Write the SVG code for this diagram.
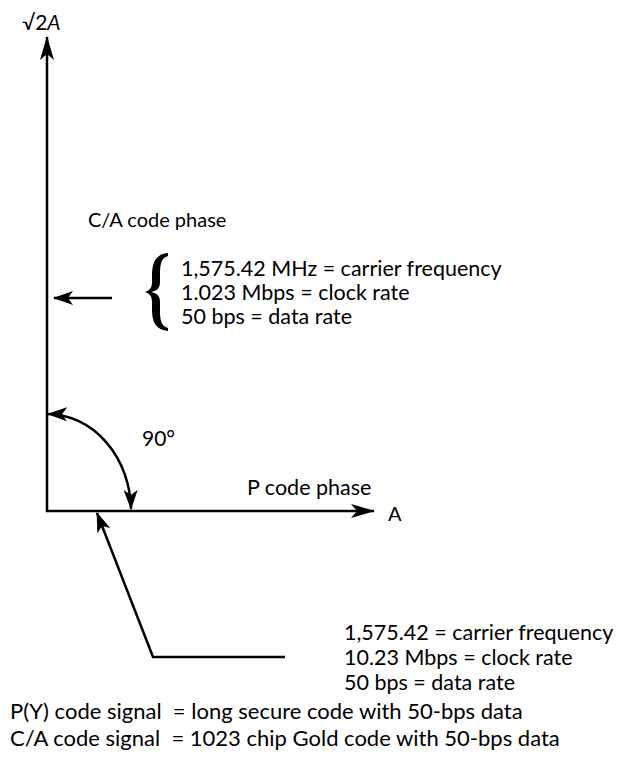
<svg xmlns="http://www.w3.org/2000/svg" width="618" height="775" viewBox="0 0 618 775">
<style>
text{font-family:"Lato","Open Sans","Liberation Sans",sans-serif;font-size:21.5px;fill:#000;white-space:pre}
.ln{stroke:#000;stroke-width:2.5;fill:none}
</style>
<defs>
<marker id="big" viewBox="0 0 24 14" refX="23" refY="7" markerWidth="24" markerHeight="14" markerUnits="userSpaceOnUse" orient="auto-start-reverse">
<path d="M0,0 L24,7 L0,14 L6,7 z" fill="#000"/>
</marker>
<marker id="sm" viewBox="0 0 20 14" refX="19" refY="7" markerWidth="20" markerHeight="14" markerUnits="userSpaceOnUse" orient="auto-start-reverse">
<path d="M0,0 L20,7 L0,14 L5,7 z" fill="#000"/>
</marker>
</defs>
<rect width="618" height="775" fill="#fff"/>
<g id="connectors">
<line class="ln" x1="47" y1="512" x2="47" y2="37" marker-end="url(#big)"/>
<line class="ln" x1="46" y1="511" x2="374" y2="511" marker-end="url(#big)"/>
<line class="ln" x1="112" y1="298" x2="54" y2="298" marker-end="url(#sm)"/>
<path class="ln" d="M131,509 A84,97 0 0 0 48,414" marker-start="url(#sm)" marker-end="url(#sm)"/>
<polyline class="ln" points="285,657 153,657 97,513" marker-end="url(#sm)"/>
</g>
<g id="y-axis-label"><text x="22" y="30" style="font-size:21px">√2<tspan font-style="italic">A</tspan></text></g>
<g id="x-axis-label"><text x="388" y="521" style="font-size:20px">A</text></g>
<g id="ca-phase"><text x="88" y="227" style="font-size:20px">C/A code phase</text></g>
<g id="ca-params">
<path d="M168,253 C156,254 152,262 152,276 L152,282 C152,288 150,290 145,292 C150,294 152,296 152,302 L152,310 C152,322 156,330 168,331 L168,328 C161,326 160,320 160,310 L160,302 C160,296 157,293 151,292 C157,291 160,288 160,282 L160,276 C160,264 161,258 168,256 Z" fill="#000"/>
<text x="181" y="276">1,575.42 MHz = carrier frequency</text>
<text x="181" y="300">1.023 Mbps = clock rate</text>
<text x="181" y="324">50 bps = data rate</text>
</g>
<g id="angle"><text x="142" y="446" style="font-size:21px">90°</text></g>
<g id="p-phase"><text x="247" y="495">P code phase</text></g>
<g id="p-params">
<text x="344" y="640">1,575.42 = carrier frequency</text>
<text x="344" y="665">10.23 Mbps = clock rate</text>
<text x="344" y="690">50 bps = data rate</text>
</g>
<g id="legend">
<text x="10" y="719" style="font-size:22px">P(Y) code signal  = long secure code with 50-bps data</text>
<text x="10" y="746" style="font-size:22px">C/A code signal  = 1023 chip Gold code with 50-bps data</text>
</g>
</svg>
